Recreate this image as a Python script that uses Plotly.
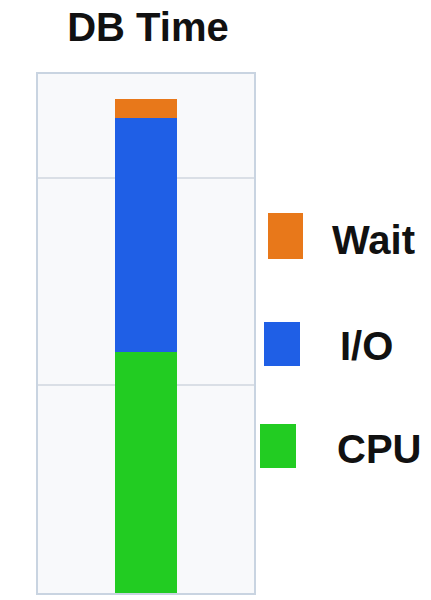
import plotly.graph_objects as go

categories = ["DB Time"]
series_names = ["CPU", "I/O", "Wait"]
cpu = [1.16]
io = [1.13]
wait = [0.09]
colors = {"CPU": "#22CC22", "I/O": "#1F5FE6", "Wait": "#E8781A"}

W, H = 431, 600
L, R, T, B = 38, 177, 74, 7
pw, ph = W - L - R, H - T - B

fig = go.Figure()
for name, vals in zip(series_names, [cpu, io, wait]):
    fig.add_trace(go.Bar(x=[0], y=vals, name=name, width=0.29,
                         marker=dict(color=colors[name], line=dict(width=0)),
                         showlegend=False))

def px2paper(x, y):
    return (x - L) / pw, (H - B - y) / ph

# legend swatches (drawn manually, large)
legend_items = [("Wait", 268, 303, 213, 259, 330, 240),
                ("I/O", 264, 300, 322, 366, 338, 346),
                ("CPU", 260, 296, 424, 468, 335, 449)]
shapes = []
annotations = []
for name, x0, x1, y0, y1, tx, ty in legend_items:
    a0, b0 = px2paper(x0, y1)
    a1, b1 = px2paper(x1, y0)
    shapes.append(dict(type="rect", xref="paper", yref="paper", x0=a0, x1=a1, y0=b0, y1=b1,
                       fillcolor=colors[name], line=dict(width=0), layer="above"))
    ax, ay = px2paper(tx, ty)
    annotations.append(dict(xref="paper", yref="paper", x=ax, y=ay, xanchor="left", yanchor="middle",
                            text="<b>" + name + "</b>", showarrow=False,
                            font=dict(family="Liberation Sans, Arial, sans-serif", size=40, color="#111111")))

fig.update_layout(
    width=W, height=H,
    margin=dict(l=L, r=R, t=T, b=B),
    paper_bgcolor="white",
    plot_bgcolor="#F8F9FB",
    barmode="stack",
    title=dict(text="<b>DB Time</b>", x=(148 - L) / pw * pw / W + L / W, xanchor="center",
               y=1 - 27 / H, yanchor="middle",
               font=dict(family="Liberation Sans, Arial, sans-serif", size=40, color="#111111")),
    xaxis=dict(range=[-0.5, 0.5], showticklabels=False, showgrid=False, zeroline=False,
               showline=True, mirror=True, linecolor="#C9D4E1", linewidth=2, ticks=""),
    yaxis=dict(range=[0, 2.5], dtick=1, showticklabels=False, showgrid=True, gridcolor="#DADFE6",
               gridwidth=2, zeroline=False, showline=True, mirror=True, linecolor="#C9D4E1",
               linewidth=2, ticks=""),
    shapes=shapes,
    annotations=annotations,
    showlegend=False,
)

fig.write_html("out.html")
